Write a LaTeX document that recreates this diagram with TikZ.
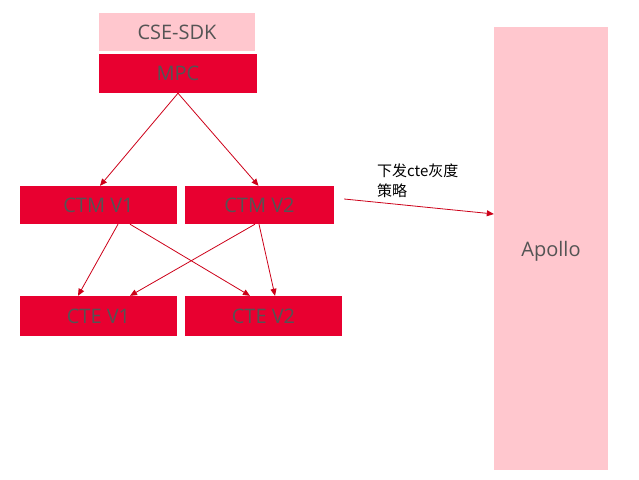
\documentclass[tikz,border=0pt]{standalone}
\usepackage{fontspec}
\setmainfont{Open Sans}
\newfontfamily\cjk{Noto Sans CJK SC}
\usetikzlibrary{arrows.meta}
\definecolor{boxred}{RGB}{232,0,48}
\definecolor{boxpink}{RGB}{255,199,206}
\definecolor{labelgray}{RGB}{84,84,84}
\definecolor{arrowred}{RGB}{204,0,24}
\tikzset{
  redbox/.style={fill=boxred, draw=none, inner sep=0pt, text=labelgray, font=\fontsize{20}{24}\selectfont},
  pinkbox/.style={fill=boxpink, draw=none, inner sep=0pt, text=labelgray, font=\fontsize{20}{24}\selectfont},
  flow/.style={draw=arrowred, line width=0.8pt, -{Triangle[length=7pt,width=6pt]}}
}
\begin{document}
\begin{tikzpicture}[x=1pt,y=-1pt]
\useasboundingbox (0,0) rectangle (639,479);

\node[pinkbox, minimum width=156pt, minimum height=38pt] (sdk) at (177, 32) {CSE-SDK};
\node[redbox, minimum width=158pt, minimum height=39pt] (mpc) at (178, 73.5) {MPC};

\node[redbox, minimum width=157pt, minimum height=38pt] (ctmA) at (98.5, 205) {CTM V1};
\node[redbox, minimum width=149pt, minimum height=38pt] (ctmB) at (259.5, 205) {CTM V2};

\node[redbox, minimum width=157pt, minimum height=40pt] (cteA) at (98.5, 316) {CTE V1};
\node[redbox, minimum width=157pt, minimum height=40pt] (cteB) at (263.5, 316) {CTE V2};

\node[pinkbox, minimum width=114pt, minimum height=443pt, text depth=-3pt] (apollo) at (551, 248.5) {Apollo};

% mpc -> ctm
\draw[flow] (mpc.south) -- ([shift={(1.5,0)}]ctmA.north);
\draw[flow] (mpc.south) -- ([shift={(-1,0)}]ctmB.north);

% ctm -> cte
\draw[flow] ([shift={(19.5,0)}]ctmA.south) -- ([shift={(-20.5,0)}]cteA.north);
\draw[flow] ([shift={(31.5,0)}]ctmA.south) -- ([shift={(-13.5,0)}]cteB.north);
\draw[flow] ([shift={(-4.5,0)}]ctmB.south) -- ([shift={(31.5,0)}]cteA.north);
\draw[flow] ([shift={(-0.5,0)}]ctmB.south) -- ([shift={(11.5,0)}]cteB.north);

% push strategy to apollo
\draw[flow] ([shift={(10,-6)}]ctmB.east) -- ([shift={(0,-34.5)}]apollo.west);
\node[draw=none, anchor=north west, align=left, inner sep=0pt, font=\cjk\fontsize{15}{20}\selectfont] (push) at (377, 164) {下发cte灰度\\策略};

\end{tikzpicture}
\end{document}
